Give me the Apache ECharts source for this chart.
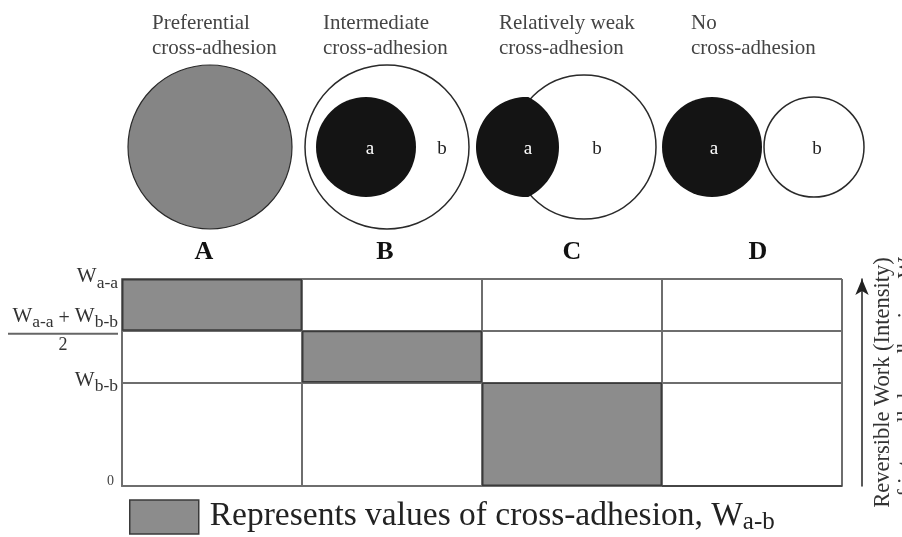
<!DOCTYPE html>
<html><head><meta charset="utf-8">
<script src="https://cdn.jsdelivr.net/npm/echarts@6/dist/echarts.min.js"></script>
<style>html,body{margin:0;padding:0;background:#fff}#c{width:902px;height:537px}</style>
</head><body><div id="c"></div>
<script>
// ---- data ----
const categories = ['A', 'B', 'C', 'D'];
const caseTitles = ['Preferential\ncross-adhesion', 'Intermediate\ncross-adhesion', 'Relatively weak\ncross-adhesion', 'No\ncross-adhesion'];
const boxLow = [0.75, 0.5, 0, 0];      // lower edge of cross-adhesion range
const boxSpan = [0.25, 0.25, 0.5, 0];  // extent of cross-adhesion range
const levelValues = [0, 0.5, 0.75, 1];
const levelLabels = ['{z|0}', '{w|W}{s|b-b}', '{w|W}{s|a-a}{p| + }{w|W}{s|b-b}\n{ln| }\n{two|2}', '{w|W}{s|a-a}'];
const seriesName = 'Represents values of cross-adhesion, W';

// layout constants
const SERIF = '"Liberation Serif", "DejaVu Serif", serif';
const letterPadding = [[0, 16, 0, 0], [0, 14, 0, 0], [0, 0, 0, 0], [0, 0, 0, 12]];

const chart = echarts.init(document.getElementById('c'), null, {renderer: 'canvas'});

// illustration of cell sorting cases (decorative, not data)
const graphics = [];
const titleX = [152, 323, 499, 691];
caseTitles.forEach((t, i) => {
  graphics.push({type: 'text', x: titleX[i], y: 11, style: {text: t, font: '21px ' + SERIF, fill: '#444', lineHeight: 25}});
});
const stroke = '#2a2a2a';
// lens-shaped "a" cell for case C: part of circle (526,147,50) cut by circle (503,147,56)
const lens = [];
const a0 = Math.acos((528.3 - 526) / 50);
for (let k = 0; k <= 60; k++) {
  const t = -a0 - k * (2 * Math.PI - 2 * a0) / 60;
  lens.push([526 + 50 * Math.cos(t), 147 + 50 * Math.sin(t)]);
}
const a1 = Math.acos((528.3 - 503) / 56);
for (let k = 0; k <= 30; k++) {
  const t = a1 - k * (2 * a1) / 30;
  lens.push([503 + 56 * Math.cos(t), 147 + 56 * Math.sin(t)]);
}
graphics.push(
  {type: 'circle', shape: {cx: 210, cy: 147, r: 82}, style: {fill: '#858585', stroke: stroke, lineWidth: 1.2}},
  {type: 'circle', shape: {cx: 387, cy: 147, r: 82}, style: {fill: '#fff', stroke: stroke, lineWidth: 1.5}},
  {type: 'circle', shape: {cx: 366, cy: 147, r: 50}, style: {fill: '#141414'}},
  {type: 'circle', shape: {cx: 584, cy: 147, r: 72}, style: {fill: '#fff', stroke: stroke, lineWidth: 1.5}},
  {type: 'polygon', shape: {points: lens}, style: {fill: '#141414'}},
  {type: 'circle', shape: {cx: 712, cy: 147, r: 50}, style: {fill: '#141414'}},
  {type: 'circle', shape: {cx: 814, cy: 147, r: 50}, style: {fill: '#fff', stroke: stroke, lineWidth: 1.5}}
);
const letters = [[370, 'a', '#fff'], [442, 'b', '#222'], [528, 'a', '#fff'], [597, 'b', '#222'], [714, 'a', '#fff'], [817, 'b', '#222']];
letters.forEach(([x, s, c]) => {
  graphics.push({type: 'text', x: x, y: 149, style: {text: s, font: '19px ' + SERIF, fill: c, align: 'center', verticalAlign: 'middle'}});
});

const gridLine = {color: '#6e6e6e', width: 2};

chart.setOption({
  backgroundColor: '#fff',
  animation: false,
  graphic: graphics,
  grid: {left: 122, right: 60, top: 279, bottom: 51, containLabel: false, outerBoundsMode: 'none'},
  legend: {
    data: [seriesName],
    left: 129, top: 499, padding: 0,
    itemWidth: 69, itemHeight: 34,
    icon: 'rect',
    itemStyle: {color: '#8c8c8c', borderColor: '#3a3a3a', borderWidth: 1.5},
    formatter: () => '{g|}{t|' + seriesName + '}{s|a-b}',
    textStyle: {
      rich: {
        g: {width: 6},
        t: {fontFamily: SERIF, fontSize: 33.5, color: '#222', lineHeight: 36, verticalAlign: 'top'},
        s: {fontFamily: SERIF, fontSize: 25, color: '#222', lineHeight: 36, verticalAlign: 'bottom'}
      }
    }
  },
  xAxis: {
    type: 'category', position: 'top',
    data: categories.map((c, i) => ({value: c, textStyle: {padding: letterPadding[i]}})),
    axisLine: {show: true, lineStyle: gridLine},
    axisTick: {show: false},
    splitLine: {show: true, lineStyle: gridLine},
    axisLabel: {margin: 14, fontFamily: SERIF, fontWeight: 'bold', fontSize: 26, color: '#111'}
  },
  yAxis: [{
    type: 'value', min: 0, max: 1,
    axisLine: {show: true, lineStyle: gridLine},
    axisTick: {show: false, customValues: levelValues},
    splitLine: {show: true, lineStyle: gridLine},
    axisLabel: {
      customValues: levelValues, margin: 4, color: '#333',
      formatter: v => {
        const i = levelValues.findIndex(x => Math.abs(x - v) < 1e-9);
        return i >= 0 ? levelLabels[i] : '';
      },
      rich: {
        z: {fontFamily: SERIF, fontSize: 14, color: '#444', padding: [0, 4, 10, 0]},
        w: {fontFamily: SERIF, fontSize: 21, color: '#333', lineHeight: 26, verticalAlign: 'top'},
        s: {fontFamily: SERIF, fontSize: 17.5, color: '#333', lineHeight: 26, verticalAlign: 'bottom'},
        p: {fontFamily: SERIF, fontSize: 20, color: '#333', lineHeight: 26},
        ln: {width: 110, height: 2, lineHeight: 4, backgroundColor: '#666', fontSize: 2},
        two: {fontFamily: SERIF, fontSize: 18, color: '#333', width: 110, align: 'center', lineHeight: 20}
      }
    }
  }, {
    type: 'value', min: 0, max: 1, position: 'right', offset: 20,
    axisLine: {show: true, symbol: ['none', 'arrow'], symbolSize: [10, 16], lineStyle: {color: '#222', width: 1.5}},
    axisTick: {show: false}, axisLabel: {show: false}, splitLine: {show: false},
    name: 'Reversible Work (Intensity)\nof intercellular adhesion, W',
    nameLocation: 'middle', nameRotate: 90, nameGap: 9,
    nameTextStyle: {fontFamily: SERIF, fontSize: 22.5, lineHeight: 24, color: '#333'}
  }],
  series: [{
    name: 'base', type: 'bar', stack: 'box', data: boxLow, barWidth: '100%',
    itemStyle: {color: 'transparent'}, silent: true
  }, {
    name: seriesName, type: 'bar', stack: 'box', data: boxSpan, barWidth: '100%',
    itemStyle: {color: '#8c8c8c', borderColor: '#3a3a3a', borderWidth: 1.5}
  }]
});
</script></body></html>
